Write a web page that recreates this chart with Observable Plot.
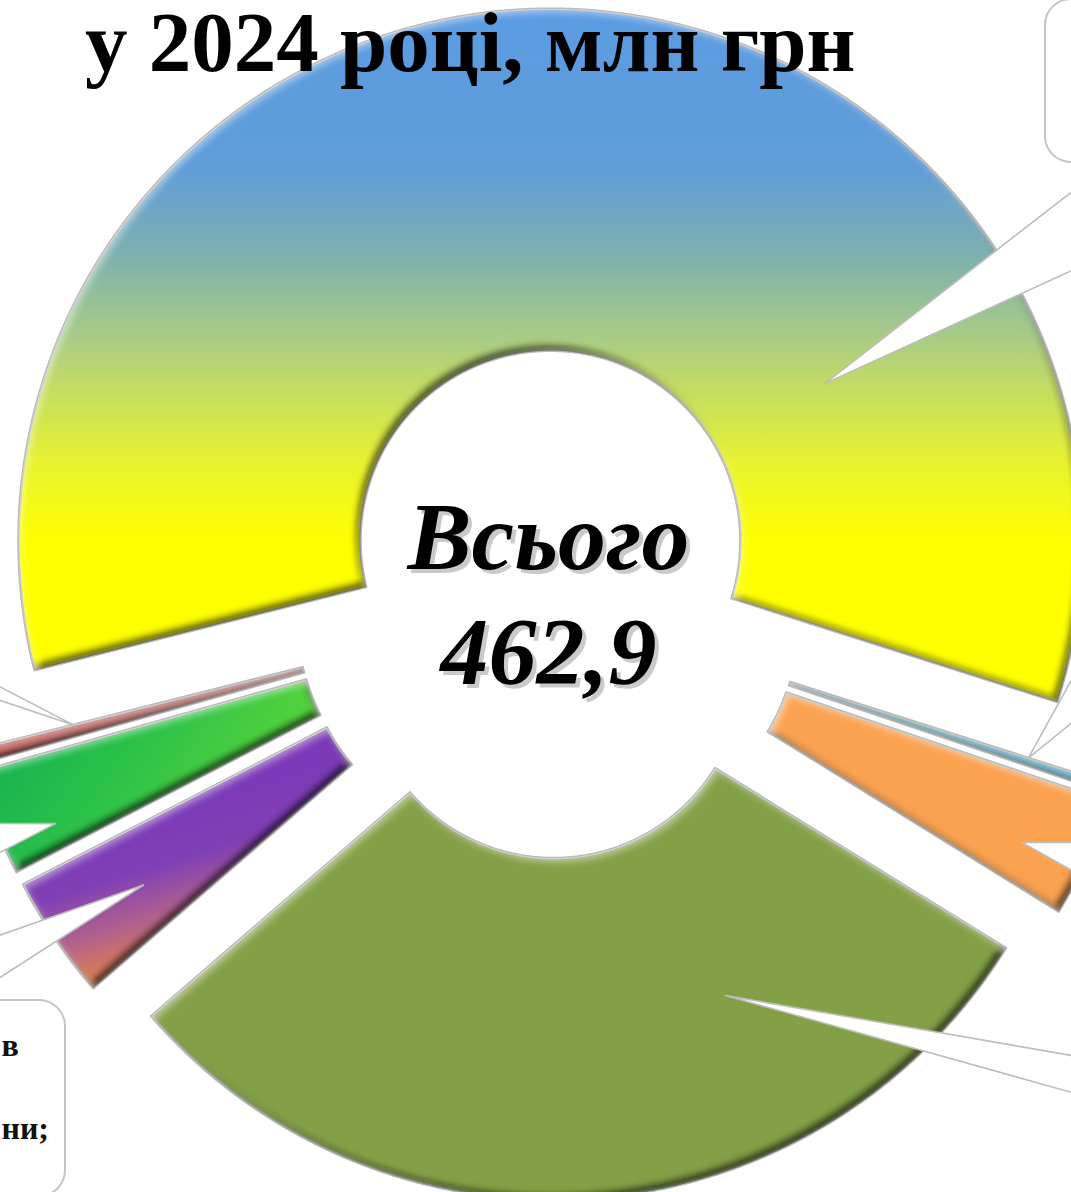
<!DOCTYPE html>
<html><head><meta charset="utf-8">
<script src="https://cdn.jsdelivr.net/npm/d3@7"></script>
<script src="https://cdn.jsdelivr.net/npm/@observablehq/plot@0.6"></script>
<style>
body{margin:0;background:#fff;}
#wrap{position:relative;width:1071px;height:1192px;overflow:hidden;background:#fff;}
#title{position:absolute;left:85px;top:0;font:bold 85px/1 "Liberation Serif","Times New Roman",serif;white-space:nowrap;color:#000;}
</style></head><body>
<div id="wrap"><div id="chart"></div><div id="title">у 2024 році, млн грн</div></div>
<script>
// ---- data ----
const categories = ["Категорія 1","Категорія 2","Категорія 3","Категорія 4","Категорія 5","Категорія 6","Категорія 7"];
const values = [272.3, 1.3, 16.8, 138.1, 17.4, 14.9, 2.1];
const baseColors = ["#ffff00", "#4bacc6", "#fba250", "#83a046", "#7b39b8", "#2fc347", "#c0504d"];
const gradientIds = ["gYellow", null, null, null, "gPurple", "gGreen", null];
const centerWord = "Всього";
const boxTexts = ["в", "ни;"];

// ---- layout ----
const W = 1071, H = 1192, unitPx = 532, cxPx = 548, cyPx = 604;
const innerR = 0.357, outerR = 1, explode = 0.12, startDeg = -104.1;
const rad = Math.PI / 180;
const calloutTips = [[60.2,0.594],[107.7,0.827],[116.9,0.876],[152.3,0.695],[235.2,0.806],[245.7,0.894],[255.8,0.80]];
const calloutBases = [
  [[1.0376,0.8177],[1.0376,0.6523]],
  [[1.0376,-0.0432],[1.0376,-0.1786]],
  [[1.0376,-0.4474],[1.0376,-0.5301]],
  [[1.0376,-0.8571],[1.0376,-0.9323]],
  [[-1.0865,-0.641],[-1.0865,-0.7368]],
  [[-1.0865,-0.4117],[-1.0865,-0.4944]],
  [[-1.0865,-0.1259],[-1.0865,-0.1617]]
];
const boxes = [
  {x1:0.9342, x2:1.4, y1:0.8308, y2:1.1372},
  {x1:-1.5, x2:-0.9079, y1:-0.7444, y2:-1.113}
];
const boxTextPos = [{x:-1.0282, y:-0.8496}, {x:-1.0282, y:-1.0038}];

// ---- geometry from data ----
const a0 = startDeg * rad;
const arcs = d3.pie().sort(null).value(d => d).startAngle(a0).endAngle(a0 + 2 * Math.PI)(values);
const slices = arcs.map((a, i) => {
  const m = (a.startAngle + a.endAngle) / 2;
  const ox = explode * Math.sin(m), oy = explode * Math.cos(m);
  const n = Math.max(2, Math.ceil((a.endAngle - a.startAngle) / (0.25 * rad)));
  const pts = [];
  for (let k = 0; k <= n; k++) {
    const t = a.startAngle + (a.endAngle - a.startAngle) * k / n;
    pts.push({x: ox + outerR * Math.sin(t), y: oy + outerR * Math.cos(t)});
  }
  for (let k = n; k >= 0; k--) {
    const t = a.startAngle + (a.endAngle - a.startAngle) * k / n;
    pts.push({x: ox + innerR * Math.sin(t), y: oy + innerR * Math.cos(t)});
  }
  const [ta, tr] = calloutTips[i];
  const tip = {x: ox + tr * Math.sin(ta * rad), y: oy + tr * Math.cos(ta * rad)};
  const b = calloutBases[i];
  const callout = [{x: b[0][0], y: b[0][1]}, tip, {x: b[1][0], y: b[1][1]}];
  return {pts, callout, color: baseColors[i], grad: gradientIds[i]};
});
const total = d3.sum(values);
const totalLabel = total.toFixed(1).replace(".", ",");

const xDomain = [-cxPx / unitPx, (W - cxPx) / unitPx];
const yDomain = [-(H - cyPx) / unitPx, cyPx / unitPx];

const marks = [];
slices.forEach(s => marks.push(Plot.line(s.pts, {x: "x", y: "y", curve: "linear-closed", fill: s.color, stroke: "#b9b9b9", strokeWidth: 2.5})));
slices.forEach(s => marks.push(Plot.line(s.pts, {x: "x", y: "y", curve: "linear-closed", fill: "black", stroke: "none"})));
slices.forEach(s => marks.push(Plot.line(s.callout, {x: "x", y: "y", curve: "linear-closed", fill: "white", stroke: "#bdbdbd", strokeWidth: 1.6})));
marks.push(Plot.rect(boxes, {x1: "x1", x2: "x2", y1: "y1", y2: "y2", fill: "white", stroke: "#c4c4c4", strokeWidth: 2, rx: 26}));
marks.push(Plot.text(boxTexts.map((t, i) => ({t, ...boxTextPos[i]})), {x: "x", y: "y", text: "t", textAnchor: "start", lineAnchor: "bottom", fontSize: 32, fontWeight: "bold", fontFamily: "Liberation Serif, serif", fill: "#111"}));
const centerFont = {lineAnchor: "bottom", textAnchor: "middle", fontSize: 96, fontWeight: "bold", fontStyle: "italic", fontFamily: "Liberation Serif, serif"};
marks.push(Plot.text([{x: 0, y: 0}], {x: "x", y: "y", text: () => centerWord, dx: 4, dy: -32, fill: "#8a8a8a", fillOpacity: 0.45, ...centerFont}));
marks.push(Plot.text([{x: 0, y: 0}], {x: "x", y: "y", text: () => totalLabel, dx: 4, dy: 83, fill: "#8a8a8a", fillOpacity: 0.45, ...centerFont}));
marks.push(Plot.text([{x: 0, y: 0}], {x: "x", y: "y", text: () => centerWord, dy: -36, fill: "#000", ...centerFont}));
marks.push(Plot.text([{x: 0, y: 0}], {x: "x", y: "y", text: () => totalLabel, dy: 79, fill: "#000", ...centerFont}));

const svg = Plot.plot({
  width: W, height: H, margin: 0,
  x: {domain: xDomain, axis: null},
  y: {domain: yDomain, axis: null},
  marks
});
document.getElementById("chart").appendChild(svg);

try {
  svg.insertAdjacentHTML("beforeend", `<defs>
<linearGradient id="gYellow" x1="0" y1="0" x2="0" y2="1">
 <stop offset="0" stop-color="#5b9be2"/><stop offset="0.23" stop-color="#5e9dd8"/><stop offset="0.36" stop-color="#7fb1ad"/>
 <stop offset="0.46" stop-color="#a3c98a"/><stop offset="0.56" stop-color="#c8df5c"/><stop offset="0.66" stop-color="#e9f32e"/>
 <stop offset="0.77" stop-color="#ffff00"/><stop offset="1" stop-color="#ffff00"/>
</linearGradient>
<linearGradient id="gGreen" x1="0" y1="0.3" x2="1" y2="0.7">
 <stop offset="0" stop-color="#0fae52"/><stop offset="0.45" stop-color="#2fc347"/><stop offset="1" stop-color="#6bdc36"/>
</linearGradient>
<linearGradient id="gPurple" x1="0.3" y1="0.35" x2="0.55" y2="1">
 <stop offset="0" stop-color="#7b39b8"/><stop offset="0.3" stop-color="#8040b4"/><stop offset="0.55" stop-color="#b0608e"/><stop offset="0.8" stop-color="#e0804c"/><stop offset="1" stop-color="#f0903c"/>
</linearGradient>
<filter id="bevelFx" x="-5%" y="-5%" width="110%" height="110%">
 <feGaussianBlur in="SourceAlpha" stdDeviation="3.5" result="blur"/>
 <feOffset in="blur" dx="-4" dy="-5" result="offDark"/>
 <feComposite in="SourceAlpha" in2="offDark" operator="out" result="darkEdge"/>
 <feFlood flood-color="#000000" flood-opacity="0.65" result="blk"/>
 <feComposite in="blk" in2="darkEdge" operator="in" result="shadow"/>
 <feOffset in="blur" dx="3" dy="4" result="offLight"/>
 <feComposite in="SourceAlpha" in2="offLight" operator="out" result="lightEdge"/>
 <feFlood flood-color="#ffffff" flood-opacity="0.45" result="wht"/>
 <feComposite in="wht" in2="lightEdge" operator="in" result="light"/>
 <feMerge><feMergeNode in="shadow"/><feMergeNode in="light"/></feMerge>
</filter>
</defs>`);
  const lineGroups = svg.querySelectorAll('g[aria-label="line"]');
  slices.forEach((s, i) => {
    if (s.grad) lineGroups[i].setAttribute("fill", `url(#${s.grad}) ${s.color}`);
    lineGroups[slices.length + i].setAttribute("filter", "url(#bevelFx)");
  });
} catch (e) {}
</script>
</body></html>
